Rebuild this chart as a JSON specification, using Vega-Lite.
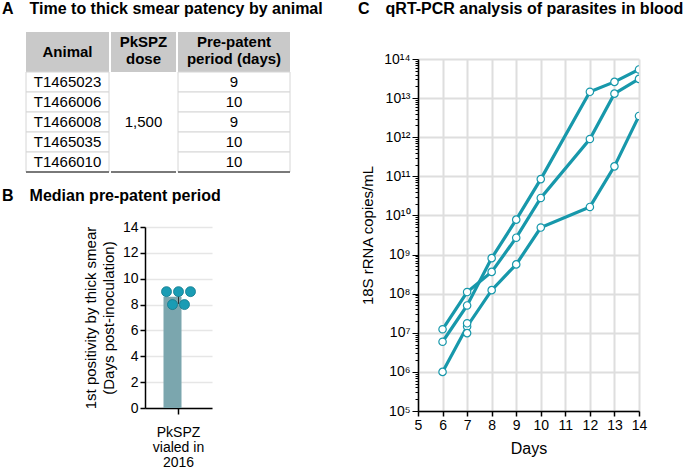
{
  "$schema": "https://vega.github.io/schema/vega-lite/v6.json",
  "padding": {"left": 2, "top": 1, "right": 0, "bottom": 0},
  "config": {
    "font": "Liberation Sans",
    "view": {"stroke": null},
    "axis": {"domainColor": "#000", "tickColor": "#000", "labelColor": "#000", "titleColor": "#000", "labelFontSize": 14, "titleFontSize": 15, "titleFontWeight": "normal", "domainWidth": 1.5, "tickWidth": 1.5},
    "title": {"fontSize": 16, "fontWeight": "bold", "color": "#000", "anchor": "start", "frame": "group"}
  },
  "datasets": {
    "table": [
      {"animal": "T1465023", "dose": 1500, "period": 9},
      {"animal": "T1466006", "dose": 1500, "period": 10},
      {"animal": "T1466008", "dose": 1500, "period": 9},
      {"animal": "T1465035", "dose": 1500, "period": 10},
      {"animal": "T1466010", "dose": 1500, "period": 10}
    ],
    "columns": [
      {"col": "animal", "label": "Animal"},
      {"col": "dose", "label": "PkSPZ|dose"},
      {"col": "period", "label": "Pre-patent|period (days)"}
    ],
    "headerBands": [{"band": "h1"}, {"band": "h2"}],
    "smear": [
      {"group": "PkSPZ|vialed in|2016", "animal": "T1465023", "days": 9, "slot": "a"},
      {"group": "PkSPZ|vialed in|2016", "animal": "T1465035", "days": 8, "slot": "b"},
      {"group": "PkSPZ|vialed in|2016", "animal": "T1466008", "days": 9, "slot": "c"},
      {"group": "PkSPZ|vialed in|2016", "animal": "T1466010", "days": 8, "slot": "d"},
      {"group": "PkSPZ|vialed in|2016", "animal": "T1466006", "days": 9, "slot": "e"}
    ],
    "qpcr": [
      {"animal": "S1", "day": 6, "copies": 12300000},
      {"animal": "S1", "day": 7, "copies": 110000000},
      {"animal": "S1", "day": 8, "copies": 360000000},
      {"animal": "S1", "day": 9, "copies": 2700000000},
      {"animal": "S1", "day": 10, "copies": 28000000000},
      {"animal": "S1", "day": 12, "copies": 900000000000},
      {"animal": "S1", "day": 13, "copies": 13000000000000},
      {"animal": "S1", "day": 14, "copies": 31000000000000},
      {"animal": "S2", "day": 6, "copies": 5900000},
      {"animal": "S2", "day": 7, "copies": 50000000},
      {"animal": "S2", "day": 8, "copies": 810000000},
      {"animal": "S2", "day": 9, "copies": 7800000000},
      {"animal": "S2", "day": 10, "copies": 85000000000},
      {"animal": "S2", "day": 12, "copies": 14500000000000},
      {"animal": "S2", "day": 13, "copies": 26000000000000},
      {"animal": "S2", "day": 14, "copies": 54000000000000},
      {"animal": "S3", "day": 6, "copies": 1000000},
      {"animal": "S3", "day": 7, "copies": 14500000},
      {"animal": "S3", "day": 8, "copies": 123000000},
      {"animal": "S3", "day": 9, "copies": 560000000},
      {"animal": "S3", "day": 10, "copies": 4900000000},
      {"animal": "S3", "day": 12, "copies": 16500000000},
      {"animal": "S3", "day": 13, "copies": 180000000000},
      {"animal": "S3", "day": 14, "copies": 3500000000000},
      {"animal": "S4", "day": 7, "copies": 17500000},
      {"animal": "S5", "day": 7, "copies": 9800000}
    ]
  },
  "spacing": 35,
  "hconcat": [
    {
      "spacing": 15,
      "vconcat": [
        {
          "title": {"text": "A\u2003Time to thick smear patency by animal", "dx": -24, "offset": 15},
          "spacing": 0,
          "hconcat": [
            {
              "width": 83, "height": 140,
              "layer": [
                {"data": {"name": "headerBands"}, "mark": {"type": "rect", "fill": "#c9c9c9"},
                 "encoding": {"y": {"field": "band", "type": "nominal", "scale": {"domain": ["h1","h2","T1465023","T1466006","T1466008","T1465035","T1466010"], "paddingInner": 0, "paddingOuter": 0}, "axis": null}}},
                {"data": {"name": "table"}, "mark": {"type": "rect", "fill": "#ffffff", "stroke": "#d6d6d6", "strokeWidth": 1},
                 "encoding": {"y": {"field": "animal", "type": "nominal", "scale": {"domain": ["h1","h2","T1465023","T1466006","T1466008","T1465035","T1466010"], "paddingInner": 0, "paddingOuter": 0}, "axis": null}}},
                {"data": {"name": "table"}, "mark": {"type": "text", "fontSize": 15, "color": "#000"},
                 "encoding": {"y": {"field": "animal", "type": "nominal", "scale": {"domain": ["h1","h2","T1465023","T1466006","T1466008","T1465035","T1466010"], "paddingInner": 0, "paddingOuter": 0}, "axis": null}, "text": {"field": "animal"}}},
                {"data": {"name": "columns"}, "transform": [{"filter": "datum.col == 'animal'"}],
                 "mark": {"type": "text", "fontSize": 15, "fontWeight": "bold", "lineBreak": "|", "lineHeight": 17, "color": "#000"},
                 "encoding": {"y": {"datum": "h2", "bandPosition": 0, "scale": {"domain": ["h1","h2","T1465023","T1466006","T1466008","T1465035","T1466010"], "paddingInner": 0, "paddingOuter": 0}, "axis": null}, "text": {"field": "label"}}},
                {"data": {"name": "table"}, "mark": {"type": "rule", "color": "#7a7a7a", "strokeWidth": 1.5},
                 "encoding": {"y": {"datum": "T1466010", "bandPosition": 1, "scale": {"domain": ["h1","h2","T1465023","T1466006","T1466008","T1465035","T1466010"], "paddingInner": 0, "paddingOuter": 0}, "axis": null}}}
              ]
            },
            {
              "width": 65, "height": 140,
              "layer": [
                {"data": {"name": "headerBands"}, "mark": {"type": "rect", "fill": "#c9c9c9"},
                 "encoding": {"y": {"field": "band", "type": "nominal", "scale": {"domain": ["h1","h2","T1465023","T1466006","T1466008","T1465035","T1466010"], "paddingInner": 0, "paddingOuter": 0}, "axis": null}}},
                {"data": {"name": "table"}, "transform": [{"aggregate": [{"op": "max", "field": "dose", "as": "dose"}]}],
                 "mark": {"type": "text", "fontSize": 15, "color": "#000"},
                 "encoding": {"y": {"datum": "T1466008", "scale": {"domain": ["h1","h2","T1465023","T1466006","T1466008","T1465035","T1466010"], "paddingInner": 0, "paddingOuter": 0}, "axis": null}, "text": {"field": "dose", "type": "quantitative", "format": ","}}},
                {"data": {"name": "columns"}, "transform": [{"filter": "datum.col == 'dose'"}],
                 "mark": {"type": "text", "fontSize": 15, "fontWeight": "bold", "lineBreak": "|", "lineHeight": 17, "color": "#000"},
                 "encoding": {"y": {"datum": "h1", "scale": {"domain": ["h1","h2","T1465023","T1466006","T1466008","T1465035","T1466010"], "paddingInner": 0, "paddingOuter": 0}, "axis": null}, "text": {"field": "label"}}},
                {"data": {"name": "table"}, "mark": {"type": "rule", "color": "#7a7a7a", "strokeWidth": 1.5},
                 "encoding": {"y": {"datum": "T1466010", "bandPosition": 1, "scale": {"domain": ["h1","h2","T1465023","T1466006","T1466008","T1465035","T1466010"], "paddingInner": 0, "paddingOuter": 0}, "axis": null}}}
              ]
            },
            {
              "width": 112, "height": 140,
              "layer": [
                {"data": {"name": "headerBands"}, "mark": {"type": "rect", "fill": "#c9c9c9"},
                 "encoding": {"y": {"field": "band", "type": "nominal", "scale": {"domain": ["h1","h2","T1465023","T1466006","T1466008","T1465035","T1466010"], "paddingInner": 0, "paddingOuter": 0}, "axis": null}}},
                {"data": {"name": "table"}, "mark": {"type": "rect", "fill": "#ffffff", "stroke": "#d6d6d6", "strokeWidth": 1},
                 "encoding": {"y": {"field": "animal", "type": "nominal", "scale": {"domain": ["h1","h2","T1465023","T1466006","T1466008","T1465035","T1466010"], "paddingInner": 0, "paddingOuter": 0}, "axis": null}}},
                {"data": {"name": "table"}, "mark": {"type": "text", "fontSize": 15, "color": "#000"},
                 "encoding": {"y": {"field": "animal", "type": "nominal", "scale": {"domain": ["h1","h2","T1465023","T1466006","T1466008","T1465035","T1466010"], "paddingInner": 0, "paddingOuter": 0}, "axis": null}, "text": {"field": "period", "type": "nominal"}}},
                {"data": {"name": "columns"}, "transform": [{"filter": "datum.col == 'period'"}],
                 "mark": {"type": "text", "fontSize": 15, "fontWeight": "bold", "lineBreak": "|", "lineHeight": 17, "color": "#000"},
                 "encoding": {"y": {"datum": "h1", "scale": {"domain": ["h1","h2","T1465023","T1466006","T1466008","T1465035","T1466010"], "paddingInner": 0, "paddingOuter": 0}, "axis": null}, "text": {"field": "label"}}},
                {"data": {"name": "table"}, "mark": {"type": "rule", "color": "#7a7a7a", "strokeWidth": 1.5},
                 "encoding": {"y": {"datum": "T1466010", "bandPosition": 1, "scale": {"domain": ["h1","h2","T1465023","T1466006","T1466008","T1465035","T1466010"], "paddingInner": 0, "paddingOuter": 0}, "axis": null}}}
              ]
            }
          ]
        },
        {
          "title": {"text": "B\u2003Median pre-patent period", "dx": -24, "offset": 16},
          "spacing": 0,
          "hconcat": [
            {"width": 57, "height": 1, "data": {"values": []}, "mark": "point"},
            {
              "width": 67, "height": 181,
              "data": {"name": "smear"},
              "layer": [
                {"mark": {"type": "bar", "color": "#7ba6ae"},
                 "encoding": {
                   "x": {"field": "group", "type": "nominal", "scale": {"paddingInner": 0, "paddingOuter": 0.6167},
                         "axis": {"title": null, "labelAngle": 0, "labelExpr": "split(datum.label, '|')", "labelLineHeight": 15, "labelFontSize": 14, "tickSize": 6, "labelPadding": 11}},
                   "y": {"aggregate": "mean", "field": "days", "type": "quantitative", "scale": {"domain": [0, 14], "nice": false},
                         "title": ["1st positivity by thick smear", "(Days post-inoculation)"],
                         "axis": {"values": [0, 2, 4, 6, 8, 10, 12, 14], "labelOverlap": false, "labelFlush": false, "grid": true, "gridColor": "#e6e6e6", "gridWidth": 1.5, "tickSize": 5,
                                  "titleFontSize": 15, "titleLineHeight": 18, "titlePadding": 6}}
                 }},
                {"mark": {"type": "errorbar", "extent": "stdev", "color": "#333333", "thickness": 1},
                 "encoding": {
                   "x": {"field": "group", "type": "nominal", "axis": {"title": null, "labelAngle": 0, "labelExpr": "split(datum.label, '|')", "labelLineHeight": 15, "labelFontSize": 14, "tickSize": 6, "labelPadding": 11}},
                   "y": {"field": "days", "type": "quantitative", "title": ["1st positivity by thick smear", "(Days post-inoculation)"],
                         "axis": {"values": [0, 2, 4, 6, 8, 10, 12, 14], "labelOverlap": false, "labelFlush": false, "grid": true, "gridColor": "#e6e6e6", "gridWidth": 1.5, "tickSize": 5,
                                  "titleFontSize": 15, "titleLineHeight": 18, "titlePadding": 6}}}},
                {"mark": {"type": "circle", "size": 100, "opacity": 1, "color": "#1a9cb4", "stroke": "#11798b", "strokeWidth": 0.8},
                 "encoding": {
                   "x": {"field": "group", "type": "nominal", "axis": {"title": null, "labelAngle": 0, "labelExpr": "split(datum.label, '|')", "labelLineHeight": 15, "labelFontSize": 14, "tickSize": 6, "labelPadding": 11}},
                   "xOffset": {"field": "slot", "type": "nominal", "scale": {"paddingInner": 0, "paddingOuter": 0.5}},
                   "y": {"field": "days", "type": "quantitative", "title": ["1st positivity by thick smear", "(Days post-inoculation)"],
                         "axis": {"values": [0, 2, 4, 6, 8, 10, 12, 14], "labelOverlap": false, "labelFlush": false, "grid": true, "gridColor": "#e6e6e6", "gridWidth": 1.5, "tickSize": 5,
                                  "titleFontSize": 15, "titleLineHeight": 18, "titlePadding": 6}}
                 }}
              ]
            }
          ]
        }
      ]
    },
    {
      "title": {"text": "C\u2003qRT-PCR analysis of parasites in blood", "dx": -60, "offset": 15},
      "spacing": 19,
      "vconcat": [
        {"width": 1, "height": 1, "data": {"values": []}, "mark": "point"},
        {
          "width": 221, "height": 352,
          "data": {"name": "qpcr"},
          "encoding": {
            "x": {"field": "day", "type": "quantitative", "scale": {"domain": [5, 14], "nice": false},
                  "axis": {"values": [5,6,7,8,9,10,11,12,13,14], "labelFlush": false, "grid": true, "gridColor": "#dedede", "gridWidth": 2, "tickSize": 5, "title": "Days", "titleFontSize": 16, "titlePadding": 8}},
            "y": {"field": "copies", "type": "quantitative", "scale": {"type": "log", "domain": [100000, 100000000000000], "nice": false},
                  "axis": {"tickCount": 100, "labelOverlap": false, "labelFlush": false,
                           "grid": true, "gridColor": "#dedede", "gridWidth": 2,
                           "gridOpacity": {"condition": {"test": "abs(log(datum.value)/LN10 - round(log(datum.value)/LN10)) < 0.001", "value": 1}, "value": 0},
                           "tickSize": {"condition": {"test": "abs(log(datum.value)/LN10 - round(log(datum.value)/LN10)) < 0.001", "value": 6}, "value": 3},
                           "tickWidth": 1,
                           "labelExpr": "abs(log(datum.value)/LN10 - round(log(datum.value)/LN10)) < 0.001 ? '10' + (round(log(datum.value)/LN10) >= 10 ? '\u00b9' + ['\u2070','\u00b9','\u00b2','\u00b3','\u2074','\u2075','\u2076','\u2077','\u2078','\u2079'][round(log(datum.value)/LN10) - 10] : ['\u2070','\u00b9','\u00b2','\u00b3','\u2074','\u2075','\u2076','\u2077','\u2078','\u2079'][round(log(datum.value)/LN10)]) : ''",
                           "title": "18S rRNA copies/mL", "titleFontSize": 15, "titlePadding": 8}}
          },
          "layer": [
            {"mark": {"type": "line", "color": "#1798ab", "strokeWidth": 3.2, "clip": true},
             "encoding": {"detail": {"field": "animal", "type": "nominal"}}},
            {"mark": {"type": "point", "shape": "circle", "filled": true, "fill": "#ffffff", "stroke": "#1798ab", "strokeWidth": 1.2, "size": 55, "opacity": 1, "clip": true},
             "encoding": {"detail": {"field": "animal", "type": "nominal"}}}
          ]
        }
      ]
    }
  ]
}
